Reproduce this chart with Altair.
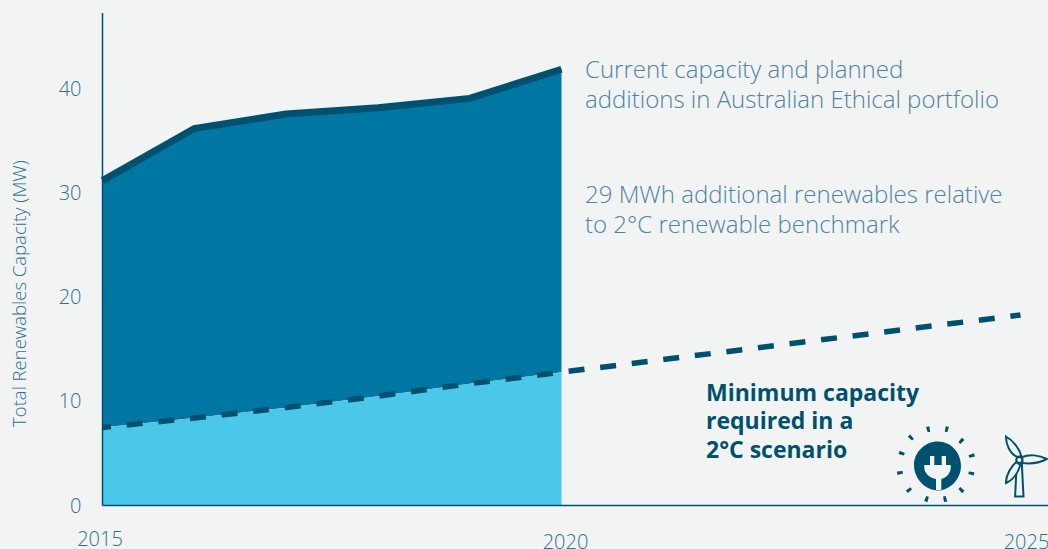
import math
import altair as alt
import pandas as pd

years = [2015, 2016, 2017, 2018, 2019, 2020]
portfolio = [31.2, 36.2, 37.6, 38.2, 39.1, 41.9]
benchmark = [7.5, 8.4, 9.4, 10.5, 11.7, 12.8]
benchmark_years = [2015, 2016, 2017, 2018, 2019, 2020, 2025]
benchmark_all = [7.5, 8.4, 9.4, 10.5, 11.7, 12.8, 18.3]
y_ticks = [0, 10, 20, 30, 40]

INK = "#00506f"
MUTED = "#4f83a0"
TICK = "#2f6f8d"
PAPER = "#f2f4f4"
FONT = "Open Sans"
LEFT, TOP = 102.5, 13

x_scale = alt.Scale(domain=[2015, 2025.3], nice=False, zero=False)
y_scale = alt.Scale(domain=[0, 47.3], nice=False)
X = alt.X("year:Q", scale=x_scale, axis=None)
Y = alt.Y("v:Q", scale=y_scale, axis=None)

area_df = pd.DataFrame({"year": years, "top": portfolio, "low": benchmark})
line_df = pd.DataFrame({"year": benchmark_years, "v": benchmark_all})

upper = alt.Chart(area_df).mark_area(color="#0076a3", opacity=1).encode(
    x=X, y=alt.Y("top:Q", scale=y_scale, axis=None), y2="low:Q")
lower = alt.Chart(area_df).mark_area(color="#4bc7ea", opacity=1).encode(
    x=X, y=alt.Y("low:Q", scale=y_scale, axis=None), y2=alt.datum(0))
edge = alt.Chart(area_df.rename(columns={"top": "v"})).mark_line(
    color=INK, strokeWidth=7, strokeCap="butt").encode(x=X, y=Y)
dashed = alt.Chart(line_df).mark_line(
    color=INK, strokeWidth=5.5, strokeDash=[16, 15.8], strokeDashOffset=7.5, strokeCap="butt"
).encode(x=X, y=Y)

y_rule = alt.Chart(pd.DataFrame({"year": [2015]})).mark_rule(color=INK, strokeWidth=1.5).encode(
    x=X, y=alt.value(0), y2=alt.value(492.5))
x_rule = alt.Chart(pd.DataFrame({"v": [0]})).mark_rule(color=INK, strokeWidth=1.5).encode(
    y=Y, x=alt.value(0), x2=alt.value(945.5))

y_labels = alt.Chart(pd.DataFrame({"v": y_ticks})).mark_text(
    font=FONT, fontSize=20, fontWeight=300, color=TICK, align="right", baseline="middle", dx=-21, dy=1
).encode(x=alt.value(0), y=Y, text=alt.Text("v:Q"))

axis_title = alt.Chart(pd.DataFrame({"t": ["Total Renewables Capacity (MW)"]})).mark_text(
    font=FONT, fontSize=18.5, fontWeight=300, color=TICK, angle=270, align="center", baseline="middle"
).encode(x=alt.value(19.5 - LEFT), y=alt.value(293.5 - TOP), text="t:N")


def year_label(year, dx, py):
    return alt.Chart(pd.DataFrame({"year": [year], "t": [str(year)]})).mark_text(
        font=FONT, fontSize=20, fontWeight=300, color=TICK, align="center", baseline="middle", dx=dx
    ).encode(x=X, y=alt.value(py - TOP), text="t:N")


x_labels = [year_label(2015, -2.5, 540), year_label(2020, 4, 542.5), year_label(2025, 6, 542.5)]


def note(lines, px, first_y, step, **style):
    df = pd.DataFrame({"t": lines, "row": [first_y + i * step - TOP for i in range(len(lines))]})
    return alt.Chart(df).mark_text(font=FONT, align="left", baseline="middle", **style).encode(
        x=alt.value(px - LEFT), y=alt.Y("row:Q", scale=None), text="t:N")


notes = [
    note(["Current capacity and planned", "additions in Australian Ethical portfolio"],
         585, 71, 30, fontSize=24, fontWeight=300, color=MUTED),
    note(["29 MWh additional renewables relative", "to 2°C renewable benchmark"],
         585, 196, 30, fontSize=24, fontWeight=300, color=MUTED),
    note(["Minimum capacity", "required in a", "2°C scenario"],
         706, 393.5, 28.5, fontSize=23, fontWeight=700, color=INK),
]

# Icons are pixel-unit SVG paths: size 4 makes one path unit equal one pixel.
BLOB = "M0,-24.5 C14,-24.5 23.5,-13 23.5,0 C23.5,14 11,25 0,24.5 C-12,24 -23.5,13 -23.5,-1 C-23.5,-14 -12,-24.5 0,-24.5 Z"
PLUG = ("M-7.5,-10 L-3.2,-10 L-3.2,-1 L4.2,-1 L4.2,-10 L8.5,-10 L8.5,-1 L13.2,-1 L13.2,2 "
        "C13,8 8,12 3.8,13 L3.8,24 L-1.5,24 L-1.5,13 C-7,12 -13,8 -13.2,2 L-13.2,-1 L-7.5,-1 Z")


def ray_path(cx, cy):
    # A short wedge pointing away from the socket's centre.
    d = math.hypot(cx, cy)
    ux, uy = cx / d, cy / d
    px, py = -uy, ux
    a = (cx - ux * 2.8 + px * 1.3, cy - uy * 2.8 + py * 1.3)
    b = (cx + ux * 2.8 + px * 1.7, cy + uy * 2.8 + py * 1.7)
    c = (cx + ux * 2.8 - px * 1.7, cy + uy * 2.8 - py * 1.7)
    e = (cx - ux * 2.8 - px * 1.3, cy - uy * 2.8 - py * 1.3)
    return "M" + " L".join(f"{x:.1f},{y:.1f}" for x, y in (a, b, c, e)) + " Z"


ray_spots = [(-9.2, -36.7), (9.2, -36.7), (-26.5, -28.3), (23.8, -25), (-35.8, -12.7), (34.2, -10.3),
             (-37.5, 6.7), (33.8, 7.3), (-28.5, 24), (23.8, 24), (-10.8, 33), (7.5, 33)]
RAYS = " ".join(ray_path(x, y) for x, y in ray_spots)

TOWER = "M-2.5,3 L2.5,3 L4.2,36.5 L-4.2,36.5 Z"
BLADE_UP = "M-2,-3 C-9,-6 -13.5,-15 -13.3,-23.5 C-7,-20 0,-12 2,-4 Z"
BLADE_RIGHT = "M3,-3 C10,-6 20,-5 27.4,-1 C20,3 10,4 3,3 Z"
BLADE_DOWN = "M-3,2 C-8,6 -13.5,15 -13.3,23 C-6,20 -1,12 1,5 Z"
HUB = "M3,0 A3,3 0 1,1 -3,0 A3,3 0 1,1 3,0 Z"


def glyph(path, px, py, fill, stroke=None):
    style = {"stroke": stroke, "strokeWidth": 2} if stroke else {"strokeWidth": 0}
    return alt.Chart(pd.DataFrame({"i": [0]})).mark_point(
        shape=path, size=4, filled=True, fill=fill, opacity=1, **style
    ).encode(x=alt.value(px - LEFT), y=alt.value(py - TOP))


HUB_X, HUB_Y = 1019.3, 460
icons = [
    glyph(RAYS, 937.5, 466, INK),
    glyph(BLOB, 937.5, 466, INK),
    glyph(PLUG, 937.5, 466, PAPER),
    glyph(TOWER, HUB_X, HUB_Y, PAPER, INK),
    glyph(BLADE_UP, HUB_X, HUB_Y, PAPER, INK),
    glyph(BLADE_RIGHT, HUB_X, HUB_Y, PAPER, INK),
    glyph(BLADE_DOWN, HUB_X, HUB_Y, PAPER, INK),
    glyph(HUB, HUB_X, HUB_Y, PAPER, INK),
]

chart = alt.layer(
    upper, lower, edge, dashed, x_rule, y_rule, y_labels, axis_title, *x_labels, *notes, *icons
).properties(
    width=945.5,
    height=492.5,
    padding={"left": LEFT, "top": TOP, "right": 0, "bottom": 43.5},
    autosize=alt.AutoSizeParams(type="none", contains="content"),
    background=PAPER,
).configure_view(stroke=None, clip=False)

chart.save("out.html", embed_options={"renderer": "svg", "actions": False})
